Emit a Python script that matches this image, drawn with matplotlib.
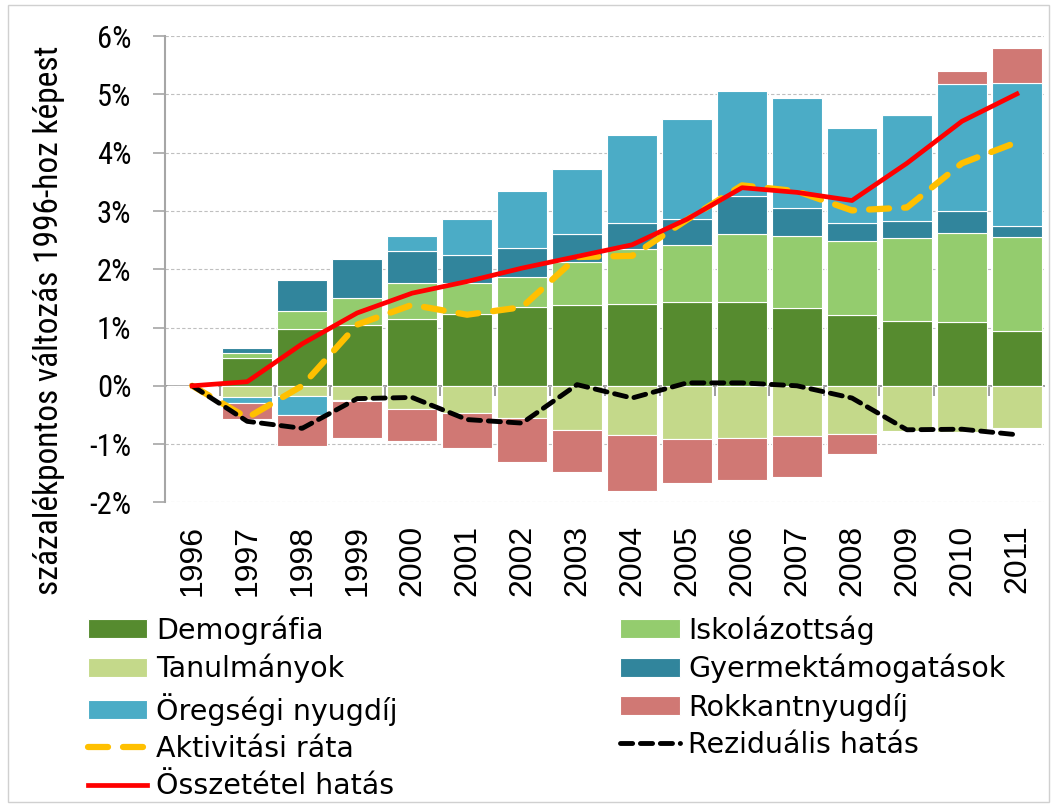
import numpy as np
import matplotlib
matplotlib.use('Agg')
import matplotlib.pyplot as plt
from matplotlib.patches import Rectangle
from matplotlib.ticker import FuncFormatter, FixedLocator

# adatok (százalékpont, 1996-hoz képest)
years = [str(y) for y in range(1996, 2012)]
demografia = [0, 0.47, 0.98, 1.04, 1.15, 1.23, 1.35, 1.39, 1.41, 1.43, 1.44, 1.33, 1.21, 1.12, 1.10, 0.94]
iskolazottsag = [0, 0.10, 0.31, 0.47, 0.62, 0.54, 0.52, 0.74, 0.93, 0.99, 1.17, 1.24, 1.28, 1.42, 1.53, 1.61]
tanulmanyok = [0, -0.19, -0.17, -0.24, -0.40, -0.46, -0.56, -0.755, -0.85, -0.91, -0.89, -0.87, -0.835, -0.77, -0.80, -0.73]
gyermektam = [0, 0.08, 0.53, 0.66, 0.55, 0.47, 0.50, 0.47, 0.45, 0.45, 0.64, 0.49, 0.30, 0.29, 0.37, 0.20]
oregsegi = [0, -0.10, -0.33, -0.02, 0.25, 0.62, 0.97, 1.12, 1.52, 1.71, 1.81, 1.88, 1.63, 1.82, 2.18, 2.45]
rokkant = [0, -0.28, -0.54, -0.64, -0.54, -0.61, -0.74, -0.72, -0.95, -0.755, -0.72, -0.70, -0.34, 0.02, 0.23, 0.60]

aktivitasi = [0, -0.55, 0.0, 1.05, 1.39, 1.22, 1.35, 2.21, 2.23, 2.85, 3.44, 3.34, 3.01, 3.06, 3.82, 4.18]
rezidualis = [0, -0.61, -0.73, -0.22, -0.20, -0.58, -0.64, 0.02, -0.21, 0.05, 0.05, 0.0, -0.21, -0.755, -0.745, -0.84]
osszetetel = [0, 0.07, 0.72, 1.25, 1.59, 1.79, 2.02, 2.22, 2.42, 2.86, 3.40, 3.32, 3.18, 3.82, 4.54, 5.01]

bar_series = [
    ('Demográfia', demografia, '#568B2F'),
    ('Iskolázottság', iskolazottsag, '#94CC6E'),
    ('Tanulmányok', tanulmanyok, '#C4D98A'),
    ('Gyermektámogatások', gyermektam, '#31859C'),
    ('Öregségi nyugdíj', oregsegi, '#4BACC6'),
    ('Rokkantnyugdíj', rokkant, '#D07874'),
]

narrow = ['Roboto Condensed', 'Roboto', 'DejaVu Sans']

fig = plt.figure(figsize=(10.56, 8.05), dpi=100)
ax = fig.add_axes([0.156, 0.376, 0.833, 0.579])

x = np.arange(len(years))
pos = np.zeros(len(years))
neg = np.zeros(len(years))
handles = {}
for name, vals, col in bar_series:
    v = np.array(vals)
    bottom = np.where(v >= 0, pos, neg)
    b = ax.bar(x, v, 0.91, bottom=bottom, color=col, edgecolor='white', linewidth=0.8, zorder=2)
    handles[name] = b
    pos = pos + np.where(v >= 0, v, 0)
    neg = neg + np.where(v < 0, v, 0)

l1, = ax.plot(x, aktivitasi, color='#FFC000', lw=4.5, ls=(0, (3.2, 2.4)), dash_capstyle='round', zorder=4)
l2, = ax.plot(x, rezidualis, color='black', lw=3.5, ls=(0, (2.5, 1.6)), dash_capstyle='round', zorder=5)
l3, = ax.plot(x, osszetetel, color='#FF0000', lw=3.4, zorder=6)

ax.set_xlim(-0.5, 15.5)
ax.set_ylim(-2, 6)
ax.set_yticks(range(-2, 7))
ax.yaxis.set_major_formatter(FuncFormatter(lambda v, p: '%d%%' % v))
ax.grid(axis='y', color='#BFBFBF', ls=(0, (3, 2)), lw=0.8)
ax.set_axisbelow(True)

for s in ['top', 'right', 'bottom']:
    ax.spines[s].set_visible(False)
ax.spines['left'].set_color('#A6A6A6')
ax.spines['left'].set_linewidth(1.5)
ax.tick_params(axis='y', color='#A6A6A6', length=9, width=1.2, pad=15)
for t in ax.get_yticklabels():
    t.set_family(narrow)
    t.set_fontsize(22)

ax.set_xticks(x)
ax.set_xticklabels(years, rotation=90, fontsize=23, family='Liberation Sans')
ax.tick_params(axis='x', length=0, pad=16)

# nulla vonal a kategóriahatárokon lévő osztásokkal
sec = ax.secondary_xaxis(0.25)
sec.spines['bottom'].set_color('#8C8C8C')
sec.spines['bottom'].set_linewidth(1.3)
sec.xaxis.set_major_locator(FixedLocator(np.arange(0.5, 15, 1)))
sec.tick_params(axis='x', direction='out', length=7, color='#8C8C8C', width=1.2, labelbottom=False)

fig.text(0.046, 0.602, 'százalékpontos változás 1996-hoz képest', rotation=90,
         ha='center', va='center', fontsize=24, family=narrow)

# jelmagyarázat két oszlopban
left_h = [handles['Demográfia'], handles['Tanulmányok'], handles['Öregségi nyugdíj'], l1, l3]
left_l = ['Demográfia', 'Tanulmányok', 'Öregségi nyugdíj', 'Aktivitási ráta', 'Összetétel hatás']
right_h = [handles['Iskolázottság'], handles['Gyermektámogatások'], handles['Rokkantnyugdíj'], l2]
right_l = ['Iskolázottság', 'Gyermektámogatások', 'Rokkantnyugdíj', 'Reziduális hatás']
for hs, ls_, xpos in [(left_h, left_l, 0.083), (right_h, right_l, 0.587)]:
    fig.legend(hs, ls_, loc='upper left', bbox_to_anchor=(xpos, 0.236), frameon=False,
               borderpad=0, borderaxespad=0, handlelength=2.1, handleheight=0.65,
               handletextpad=0.3, labelspacing=0.33, prop={'size': 20.5})

fig.patches.append(Rectangle((0.008, 0.004), 0.985, 0.99, transform=fig.transFigure,
                             fill=False, edgecolor='#D0D0D0', lw=1))

fig.savefig('out.png', dpi=100)
